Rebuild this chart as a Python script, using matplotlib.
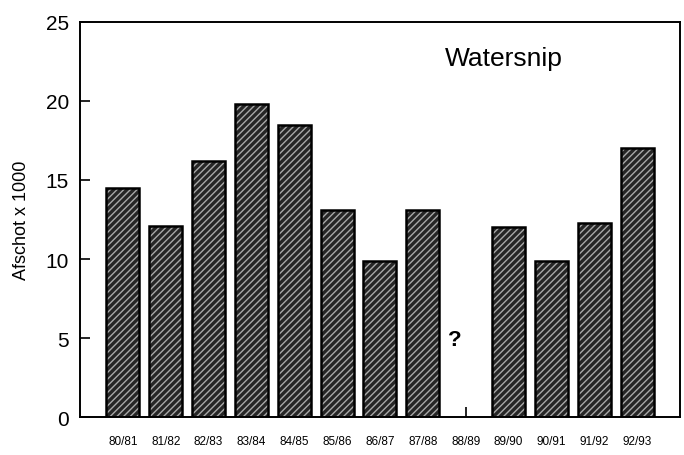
import numpy as np
import matplotlib
matplotlib.use('Agg')
import matplotlib.pyplot as plt

plt.rcParams['font.family'] = ['Liberation Sans', 'DejaVu Sans']

seasons = ['80/81', '81/82', '82/83', '83/84', '84/85', '85/86', '86/87',
           '87/88', '88/89', '89/90', '90/91', '91/92', '92/93']
afschot = [14.5, 12.1, 16.2, 19.8, 18.5, 13.1, 9.9, 13.1, np.nan, 12.0, 9.9, 12.3, 17.0]

x = np.arange(len(seasons))
vals = np.array(afschot)
ok = ~np.isnan(vals)

fig = plt.figure(figsize=(6.84, 4.56), dpi=100)
ax = fig.add_axes([0.117, 0.083, 0.877, 0.867])

# hatched fill, then black outline on top
ax.bar(x[ok], vals[ok], width=0.77, color='#262626', edgecolor='#a8a8a8',
       hatch='/////', linewidth=0)
ax.bar(x[ok], vals[ok], width=0.77, fill=False, edgecolor='black', linewidth=1.8)

ax.set_xlim(-1, len(seasons))
ax.set_ylim(0, 25)
ax.set_yticks([0, 5, 10, 15, 20, 25])
ax.set_xticks(x)
ax.set_xticklabels(seasons, fontsize=8.5)
ax.tick_params(axis='y', direction='in', length=7, width=1.2, labelsize=15, pad=8)
ax.tick_params(axis='x', direction='in', length=7, width=1.2, pad=13)
ax.set_axisbelow(True)
for s in ax.spines.values():
    s.set_linewidth(1.4)

ax.set_ylabel('Afschot x 1000', fontsize=13, labelpad=11)
ax.text(8.88, 22.7, 'Watersnip', fontsize=19, ha='center', va='center')
ax.text(7.75, 4.9, '?', fontsize=16, fontweight='bold', ha='center', va='center')

fig.savefig('out.png', dpi=100)
